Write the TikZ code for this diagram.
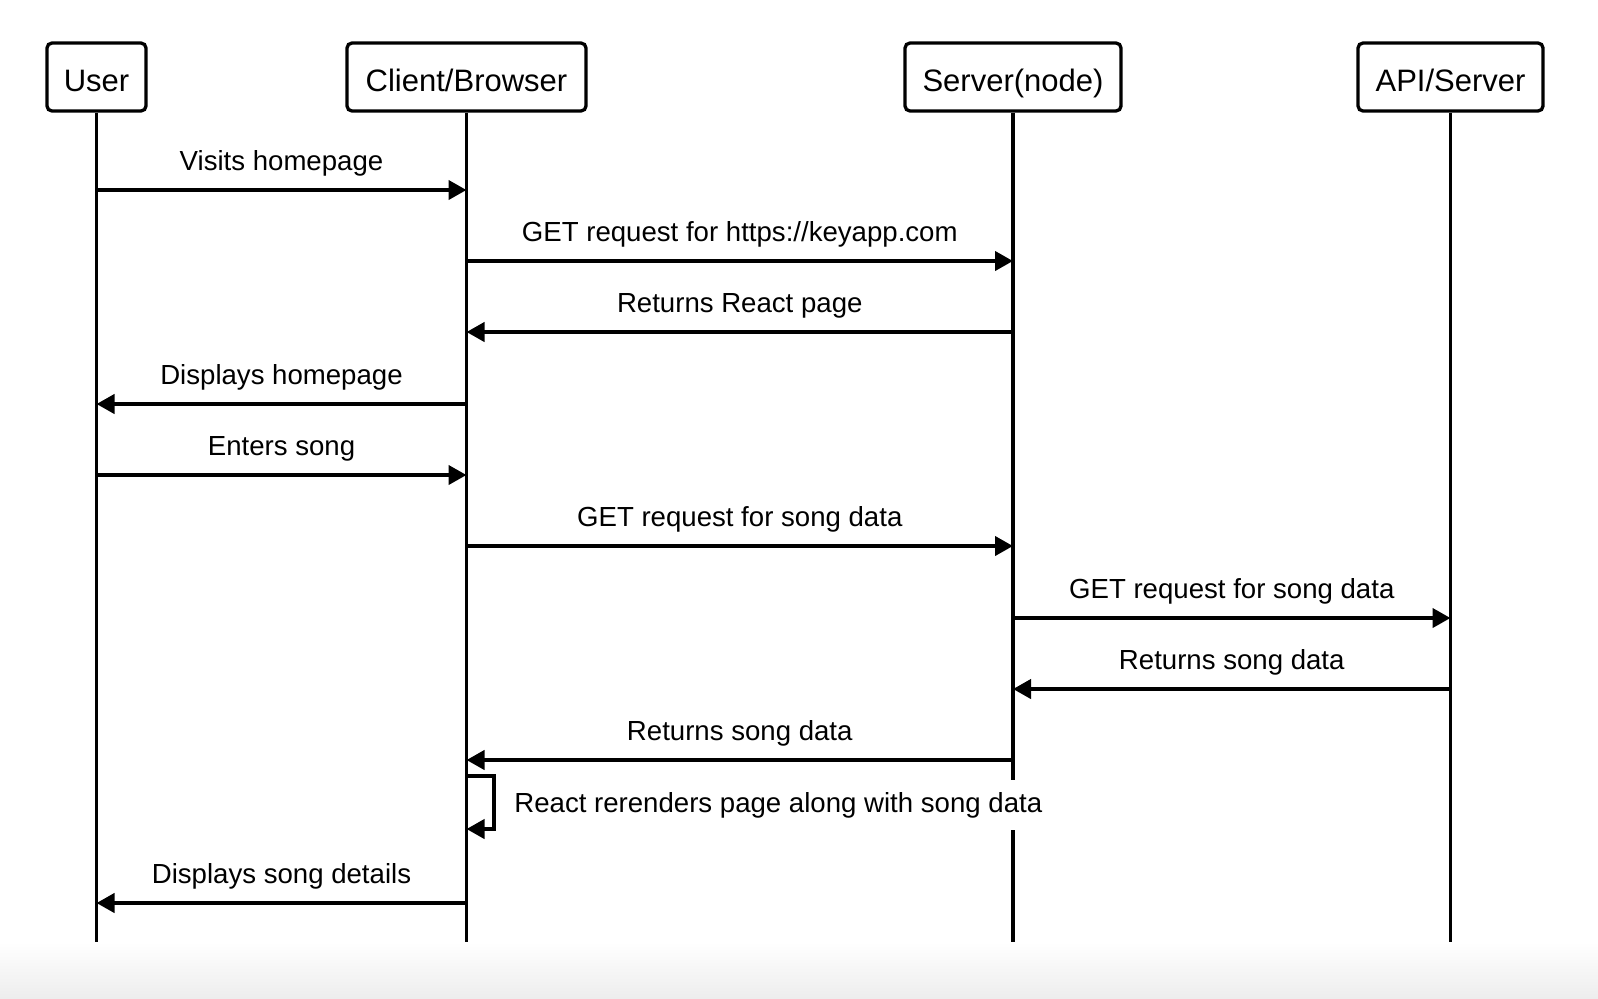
\documentclass[tikz,border=0pt]{standalone}
\usepackage{fontspec}
\setmainfont{Liberation Sans}
\usetikzlibrary{arrows.meta,positioning,calc}
\tikzset{
	actor/.style={draw, line width=1.65pt, rounded corners=2.5pt, inner sep=0pt,
		minimum height=34pt, text height=14.5pt, text depth=0pt,
		font={\fontsize{15.5pt}{18}\selectfont}},
	life/.style={line width=1.65pt},
	msg/.style={line width=2pt, -{Triangle[length=9pt,width=9.5pt]}},
	lbl/.style={pos=.5, anchor=base, yshift=9.75pt, font={\fontsize{13.8pt}{16}\selectfont}}
}

\begin{document}
\begin{tikzpicture}[x=0.5pt, y=-0.5pt]
	\useasboundingbox (0,0) rectangle (1598,998);
	\fill[white] (0,0) rectangle (1598,998);
	\shade[top color=white, bottom color=black!7] (0,942) rectangle (1598,998);
	\node (user) [actor, minimum width=49.5pt] at (96.5,77) {User};
	\node (client) [actor, minimum width=119.5pt] at (466.5,77) {Client/Browser};
	\node (server) [actor, minimum width=108pt] at (1013,77) {Server(node)};
	\node (api) [actor, minimum width=92.5pt] at (1450.5,77) {API/Server};
	\coordinate (userEnd) at (96.5,942);
	\coordinate (clientEnd) at (466.5,942);
	\coordinate (serverEnd) at (1013,942);
	\coordinate (apiEnd) at (1450.5,942);
	\draw[life] (user) -- (userEnd);
	\draw[life] (client) -- (clientEnd);
	\draw[life] (server) -- (serverEnd);
	\draw[life] (api) -- (apiEnd);
	\draw[msg] (user |- 0,190) -- (client |- 0,190) node[lbl] {Visits homepage};
	\draw[msg] (client |- 0,261) -- (server |- 0,261) node[lbl] {GET request for https://keyapp.com};
	\draw[msg] (server |- 0,332) -- (client |- 0,332) node[lbl] {Returns React page};
	\draw[msg] (client |- 0,404) -- (user |- 0,404) node[lbl] {Displays homepage};
	\draw[msg] (user |- 0,475) -- (client |- 0,475) node[lbl] {Enters song};
	\draw[msg] (client |- 0,546) -- (server |- 0,546) node[lbl] {GET request for song data};
	\draw[msg] (server |- 0,618) -- (api |- 0,618) node[lbl] {GET request for song data};
	\draw[msg] (api |- 0,689) -- (server |- 0,689) node[lbl] {Returns song data};
	\draw[msg] (server |- 0,760) -- (client |- 0,760) node[lbl] {Returns song data};
	\draw[msg] (client |- 0,776) -- (494,776) -- (494,829) -- (client |- 0,829);
	\node (rerender) [anchor=west, fill=white, inner xsep=3pt, minimum height=25pt,
		font={\fontsize{13.8pt}{16}\selectfont}] at (508,805) {React rerenders page along with song data};
	\draw[msg] (client |- 0,903) -- (user |- 0,903) node[lbl] {Displays song details};
\end{tikzpicture}
\end{document}
